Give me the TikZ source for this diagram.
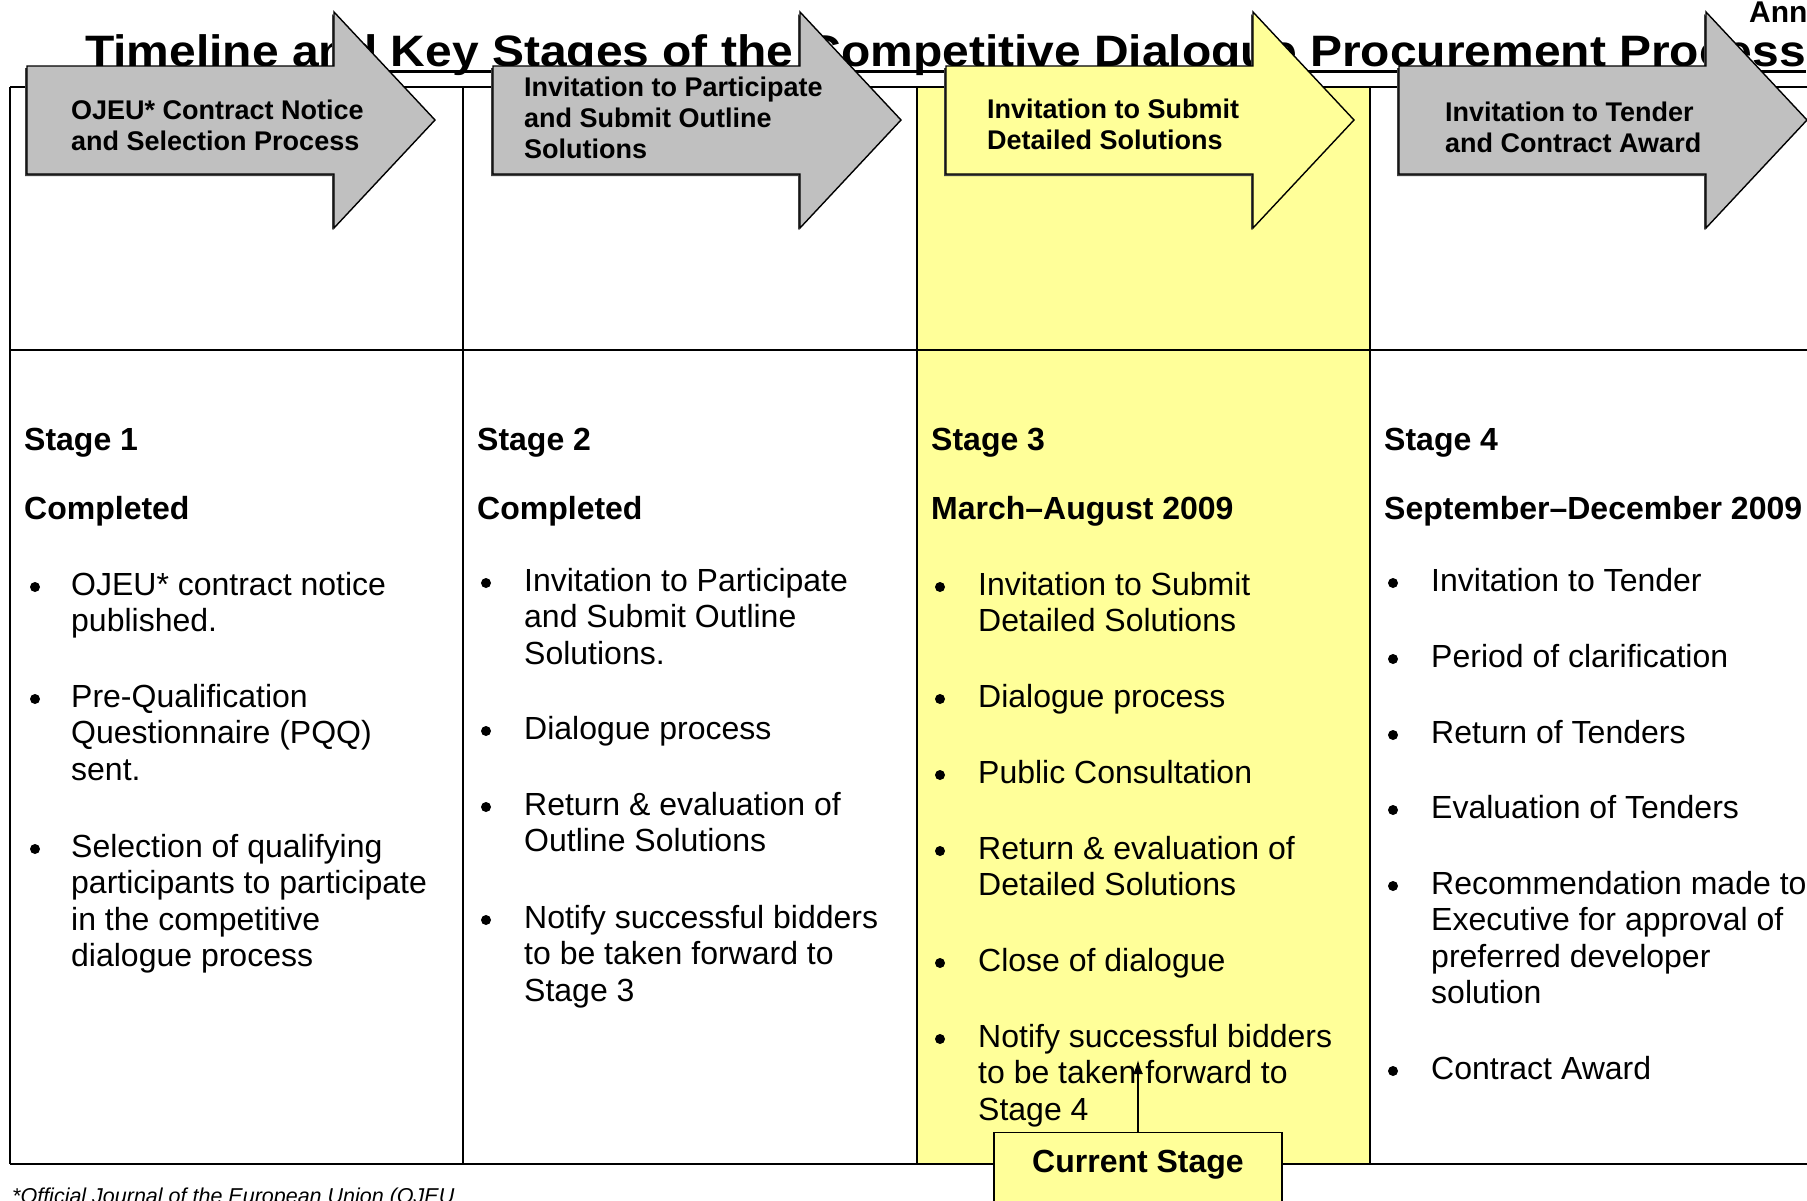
\documentclass[tikz,border=0pt]{standalone}
\usepackage{fontspec}
\setmainfont{Liberation Sans}
\usetikzlibrary{arrows.meta}

\definecolor{stagegray}{HTML}{C0C0C0}
\definecolor{nowyellow}{HTML}{FFFF99}

\begin{document}
\begin{tikzpicture}[x=1pt,y=-1pt,
    rule/.style={black, line width=1.8pt},
    blockarrow/.style={draw=black, line width=1.4pt, line join=miter},
    arrowtext/.style={anchor=base west, inner sep=0pt, align=left, font=\fontsize{27}{31}\selectfont\bfseries},
    stagehead/.style={anchor=base west, inner sep=0pt, font=\fontsize{32}{36.6}\selectfont\bfseries},
    item/.style={anchor=base west, inner sep=0pt, align=left, font=\fontsize{32}{36.6}\selectfont},
    curbox/.style={draw=black, line width=1.4pt, fill=nowyellow, anchor=north, inner xsep=0pt, inner ysep=0pt,
                   minimum width=288pt, text height=40pt, text depth=60pt, font=\fontsize{32}{36}\selectfont\bfseries}]
  \useasboundingbox (0,0) rectangle (1807,1200);
  \clip (0,0) rectangle (1807,1200);

  % heading, sits behind the stage arrows
  \node[anchor=base west, inner sep=0pt, font=\fontsize{44}{48}\selectfont\bfseries] (title) at (85,66)
     {\scalebox{1.09}[1]{Timeline and Key Stages of the Competitive Dialogue Procurement Process}};
  \draw[line width=3pt] ([yshift=-5pt]title.base west) -- ([yshift=-5pt]title.base east);
  \node[anchor=base west, inner sep=0pt, font=\fontsize{30}{34}\selectfont\bfseries] (annex) at (1749,22) {Ann};

  % current stage column
  \fill[nowyellow] (917,87) rectangle (1370,1164);

  % table
  \draw[rule] (10,87) -- (1830,87);
  \draw[rule] (10,350) -- (1830,350);
  \draw[rule] (10,1164) -- (1830,1164);
  \draw[rule] (10,87) -- (10,1164);
  \foreach \cx in {463,917,1370}
    \draw[rule] (\cx,87) -- (\cx,1164);

  % stage arrows
  \foreach \ax/\col in {27/stagegray, 493/stagegray, 946/nowyellow, 1399/stagegray} {
    \fill[black!75, shift={(\ax-2,2)}] (0,66) -- (307,66) -- (307,12) -- (408,120) -- (307,228) -- (307,174) -- (0,174) -- cycle;
    \draw[blockarrow, fill=\col, shift={(\ax,0)}] (0,66) -- (307,66) -- (307,12) -- (408,120) -- (307,228) -- (307,174) -- (0,174) -- cycle;
  }
  % (multi-line nodes sit on the baseline of their last line)
  \node[arrowtext] (arr1) at (71,150) {OJEU* Contract Notice\\and Selection Process};
  \node[arrowtext] (arr2) at (524,158) {Invitation to Participate\\and Submit Outline\\Solutions};
  \node[arrowtext] (arr3) at (987,149) {Invitation to Submit\\Detailed Solutions};
  \node[arrowtext] (arr4) at (1445,152) {Invitation to Tender\\and Contract Award};

  % stage 1
  \node[stagehead] (st1) at (24,450) {Stage 1};
  \node[stagehead] (dt1) at (24,519) {Completed};
  \node[item] (i11) at (71,631.6) {OJEU* contract notice\\published.};
  \node[item] (i12) at (71,780.2) {Pre-Qualification\\Questionnaire (PQQ)\\sent.};
  \node[item] (i13) at (71,966.8) {Selection of qualifying\\participants to participate\\in the competitive\\dialogue process};

  % stage 2
  \node[stagehead] (st2) at (477,450) {Stage 2};
  \node[stagehead] (dt2) at (477,519) {Completed};
  \node[item] (i21) at (524,664.2) {Invitation to Participate\\and Submit Outline\\Solutions.};
  \node[item] (i22) at (524,739) {Dialogue process};
  \node[item] (i23) at (524,851.6) {Return \& evaluation of\\Outline Solutions};
  \node[item] (i24) at (524,1001.2) {Notify successful bidders\\to be taken forward to\\Stage 3};

  % stage 3
  \node[stagehead] (st3) at (931,450) {Stage 3};
  \node[stagehead] (dt3) at (931,519) {March–August 2009};
  \node[item] (i31) at (978,631.6) {Invitation to Submit\\Detailed Solutions};
  \node[item] (i32) at (978,707) {Dialogue process};
  \node[item] (i33) at (978,783) {Public Consultation};
  \node[item] (i34) at (978,895.6) {Return \& evaluation of\\Detailed Solutions};
  \node[item] (i35) at (978,971) {Close of dialogue};
  \node[item] (i36) at (978,1120.2) {Notify successful bidders\\to be taken forward to\\Stage 4};

  % stage 4
  \node[stagehead] (st4) at (1384,450) {Stage 4};
  \node[stagehead] (dt4) at (1384,519) {September–December 2009};
  \node[item] (i41) at (1431,591) {Invitation to Tender};
  \node[item] (i42) at (1431,667) {Period of clarification};
  \node[item] (i43) at (1431,743) {Return of Tenders};
  \node[item] (i44) at (1431,818) {Evaluation of Tenders};
  \node[item] (i45) at (1431,1003.8) {Recommendation made to\\Executive for approval of\\preferred developer\\solution};
  \node[item] (i46) at (1431,1079) {Contract Award};

  % bullets
  \foreach \bx/\by in {35/587, 35/699, 35/849,
                       486/583, 486/731, 486/807, 486/920,
                       940/587, 940/699, 940/775, 940/851, 940/963, 940/1039,
                       1393/583, 1393/659, 1393/735, 1393/810, 1393/886, 1393/1071}
    \fill (\bx,\by) circle (5pt);

  % where we are now
  \node[curbox] (cur) at (1138,1132) {Current Stage};
  \coordinate (curtip) at (1138,1060);
  \draw[black, line width=1.5pt, -{Latex[length=14pt,width=10pt]}] (cur.north) -- (curtip);

  \node[anchor=base west, inner sep=0pt, font=\fontsize{21.5}{25}\selectfont\itshape] (note) at (12,1203)
     {*Official Journal of the European Union (OJEU};
\end{tikzpicture}
\end{document}
